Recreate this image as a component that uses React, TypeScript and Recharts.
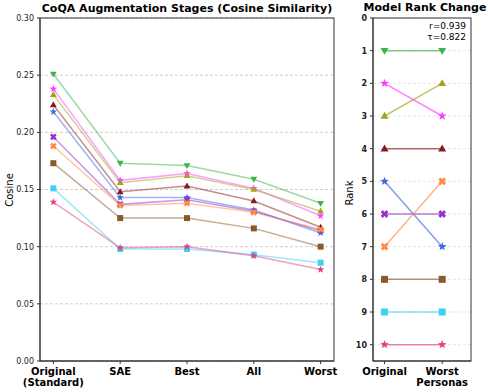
import React from "react";
import { LineChart, Line, XAxis, YAxis, CartesianGrid } from "recharts";

// ---------- data ----------
const stages = ["Original\n(Standard)", "SAE", "Best", "All", "Worst"];
const rankColumns = ["Original", "Worst\nPersonas"];

const modelGreen = [0.251, 0.173, 0.171, 0.159, 0.138];
const modelMagenta = [0.238, 0.158, 0.164, 0.151, 0.127];
const modelOlive = [0.233, 0.156, 0.162, 0.15, 0.131];
const modelDarkRed = [0.224, 0.148, 0.153, 0.14, 0.117];
const modelBlue = [0.218, 0.143, 0.143, 0.132, 0.112];
const modelPurple = [0.196, 0.137, 0.141, 0.131, 0.114];
const modelOrange = [0.188, 0.136, 0.138, 0.13, 0.115];
const modelBrown = [0.173, 0.125, 0.125, 0.116, 0.1];
const modelCyan = [0.151, 0.098, 0.098, 0.093, 0.086];
const modelPink = [0.139, 0.099, 0.1, 0.092, 0.08];

// ranks: order = green, magenta, olive, darkred, blue, purple, orange, brown, cyan, pink
const rankOriginal = [1, 2, 3, 4, 5, 6, 7, 8, 9, 10];
const rankWorstPersonas = [1, 3, 2, 4, 7, 6, 5, 8, 9, 10];

const cosineTicks = [0, 0.05, 0.1, 0.15, 0.2, 0.25, 0.3];
const rankTicks = [0, 1, 2, 3, 4, 5, 6, 7, 8, 9, 10];
const pearsonR = "r=0.939";
const kendallTau = "τ=0.822";

// ---------- styles ----------
const models = [
  { key: "green", values: modelGreen, color: "#3cb44b", shape: "tdown" },
  { key: "magenta", values: modelMagenta, color: "#ff3cff", shape: "star" },
  { key: "olive", values: modelOlive, color: "#a3a31c", shape: "tup" },
  { key: "darkred", values: modelDarkRed, color: "#8b1a1a", shape: "tup" },
  { key: "blue", values: modelBlue, color: "#4169e1", shape: "star" },
  { key: "purple", values: modelPurple, color: "#9932cc", shape: "x" },
  { key: "orange", values: modelOrange, color: "#ff8c42", shape: "x" },
  { key: "brown", values: modelBrown, color: "#8b5a2b", shape: "square" },
  { key: "cyan", values: modelCyan, color: "#3fd0f5", shape: "square" },
  { key: "pink", values: modelPink, color: "#e8407e", shape: "star" },
];

const leftData = stages.map((s, i) => {
  const row: any = { idx: i };
  models.forEach((m) => (row[m.key] = m.values[i]));
  return row;
});

const rightData = [rankOriginal, rankWorstPersonas].map((ranks, i) => {
  const row: any = { idx: i };
  models.forEach((m, j) => (row[m.key] = ranks[j]));
  return row;
});

const FONT = "DejaVu Sans, Verdana, sans-serif";

function markerPath(shape: string, cx: number, cy: number, s: number): React.ReactElement {
  if (shape === "square") {
    return <rect x={cx - s} y={cy - s} width={2 * s} height={2 * s} />;
  }
  if (shape === "tup" || shape === "tdown") {
    const d = shape === "tup" ? 1 : -1;
    const r = s * 1.2;
    const pts = [
      [cx, cy - d * r],
      [cx - r * 0.95, cy + d * r * 0.65],
      [cx + r * 0.95, cy + d * r * 0.65],
    ];
    return <polygon points={pts.map((p) => p.join(",")).join(" ")} />;
  }
  if (shape === "star") {
    const R = s * 1.3;
    const r = R * 0.42;
    const pts: number[][] = [];
    for (let k = 0; k < 10; k++) {
      const a = -Math.PI / 2 + (k * Math.PI) / 5;
      const rr = k % 2 === 0 ? R : r;
      pts.push([cx + rr * Math.cos(a), cy + rr * Math.sin(a)]);
    }
    return <polygon points={pts.map((p) => p.join(",")).join(" ")} />;
  }
  // filled X
  const r = s * 1.15;
  const w = s * 0.42;
  const base = [
    [-w, -r], [w, -r], [w, -w], [r, -w], [r, w], [w, w],
    [w, r], [-w, r], [-w, w], [-r, w], [-r, -w], [-w, -w],
  ];
  const c = Math.SQRT1_2;
  const pts = base.map(([x, y]) => [cx + (x - y) * c, cy + (x + y) * c]);
  return <polygon points={pts.map((p) => p.join(",")).join(" ")} />;
}

function makeDot(shape: string, color: string, size: number) {
  return (props: any) => {
    const { cx, cy, index } = props;
    if (cx == null || cy == null) return <g key={`d-${index}`} />;
    return (
      <g key={`d-${shape}-${index}`} fill={color} stroke="none">
        {markerPath(shape, cx, cy, size)}
      </g>
    );
  };
}

function MultiLineTick(labels: string[], fontSize: number) {
  return (props: any) => {
    const { x, y, payload } = props;
    const text = labels[payload.value] ?? "";
    const lines = text.split("\n");
    return (
      <g>
        {lines.map((ln, i) => (
          <text
            key={i}
            x={x}
            y={y + 8.5 + i * 11}
            textAnchor="middle"
            fontFamily={FONT}
            fontWeight="bold"
            fontSize={fontSize}
            fill="#000"
          >
            {ln}
          </text>
        ))}
      </g>
    );
  };
}

export default function App() {
  return (
    <div style={{ position: "absolute", left: 0, top: 0, width: 488, height: 392, background: "#fff" }}>
      <div style={{ position: "absolute", left: 0, top: 0 }}>
        <LineChart width={340} height={392} data={leftData} margin={{ top: 18, right: 6, bottom: 0, left: 0 }}>
          <CartesianGrid horizontal vertical={false} stroke="#cfcfcf" strokeDasharray="3 2" />
          <XAxis
            dataKey="idx"
            type="number"
            domain={[-0.2, 4.2]}
            ticks={[0, 1, 2, 3, 4]}
            height={31}
            tickSize={3}
            tickMargin={2}
            stroke="#333"
            tick={MultiLineTick(stages, 10)}
            interval={0}
          />
          <YAxis
            type="number"
            domain={[0, 0.3]}
            ticks={cosineTicks}
            width={40}
            tickSize={3}
            tickMargin={3}
            stroke="#333"
            tickFormatter={(v: number) => v.toFixed(2)}
            tick={{ fontSize: 8, fontFamily: FONT, fill: "#222" }}
            interval={0}
          />
          {models.map((m) => (
            <Line
              key={m.key}
              dataKey={m.key}
              stroke={m.color}
              strokeOpacity={0.5}
              strokeWidth={1.5}
              dot={makeDot(m.shape, m.color, 3)}
              activeDot={false}
              isAnimationActive={false}
            />
          ))}
        </LineChart>
      </div>
      <div style={{ position: "absolute", left: 340, top: 0 }}>
        <LineChart width={148} height={392} data={rightData} margin={{ top: 18, right: 17, bottom: 0, left: 0 }}>
          <CartesianGrid horizontal vertical={false} stroke="#e6e6e6" strokeDasharray="3 2" />
          <XAxis
            dataKey="idx"
            type="number"
            domain={[-0.2, 1.5]}
            ticks={[0, 1]}
            height={31}
            tickSize={3}
            tickMargin={2}
            stroke="#333"
            tick={MultiLineTick(rankColumns, 10)}
            interval={0}
          />
          <YAxis
            type="number"
            domain={[0, 10.5]}
            reversed
            ticks={rankTicks}
            width={33}
            tickSize={3}
            tickMargin={3}
            stroke="#333"
            tick={{ fontSize: 8, fontFamily: FONT, fill: "#222", fontWeight: "bold" }}
            interval={0}
          />
          {models.map((m) => (
            <Line
              key={m.key}
              dataKey={m.key}
              stroke={m.color}
              strokeOpacity={0.65}
              strokeWidth={1.5}
              dot={makeDot(m.shape, m.color, 3.5)}
              activeDot={false}
              isAnimationActive={false}
            />
          ))}
        </LineChart>
      </div>
      <svg
        width={488}
        height={392}
        style={{ position: "absolute", left: 0, top: 0, pointerEvents: "none" }}
      >
        <rect x={40} y={18} width={294} height={343} fill="none" stroke="#333" strokeWidth={1} />
        <rect x={373} y={18} width={98} height={343} fill="none" stroke="#333" strokeWidth={1} />
        <text x={187} y={12} textAnchor="middle" fontFamily={FONT} fontWeight="bold" fontSize={11}>
          CoQA Augmentation Stages (Cosine Similarity)
        </text>
        <text x={425} y={11} textAnchor="middle" fontFamily={FONT} fontWeight="bold" fontSize={11}>
          Model Rank Change
        </text>
        <text
          x={0}
          y={0}
          transform="translate(13,190) rotate(-90)"
          textAnchor="middle"
          fontFamily={FONT}
          fontSize={10}
        >
          Cosine
        </text>
        <text
          x={0}
          y={0}
          transform="translate(353,193) rotate(-90)"
          textAnchor="middle"
          fontFamily={FONT}
          fontSize={10}
        >
          Rank
        </text>
        <text x={466} y={29} textAnchor="end" fontFamily={FONT} fontSize={9}>
          {pearsonR}
        </text>
        <text x={466} y={40} textAnchor="end" fontFamily={FONT} fontSize={9}>
          {kendallTau}
        </text>
      </svg>
    </div>
  );
}
